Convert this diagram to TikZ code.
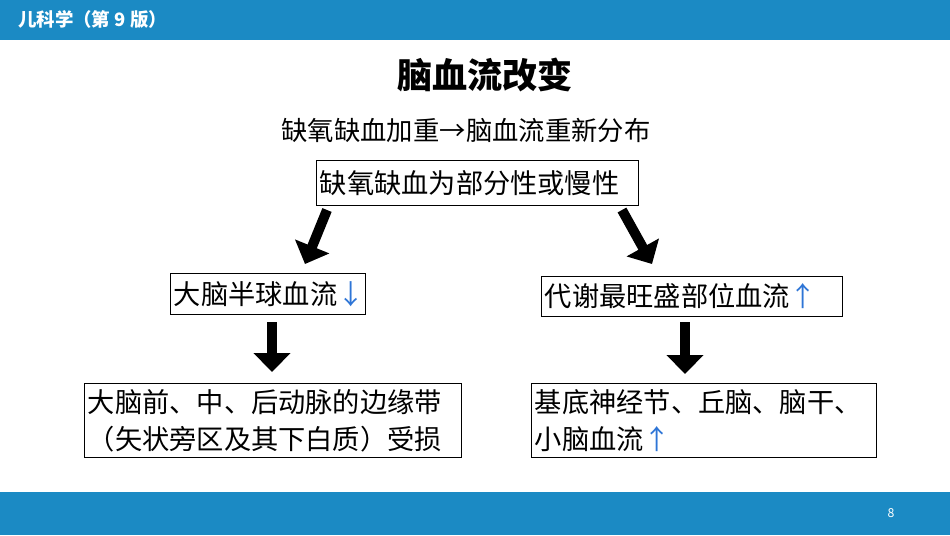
\documentclass[tikz,border=0pt]{standalone}
\usepackage{fontspec}
\setmainfont{Noto Sans CJK SC}
\usetikzlibrary{arrows.meta}
\definecolor{barblue}{HTML}{1B8AC4}
\definecolor{upblue}{HTML}{2E75D6}
\begin{document}
\begin{tikzpicture}[x=0.02cm,y=-0.02cm,
    box/.style ={draw, thin, inner xsep=2pt, inner ysep=1pt, font=\fontsize{15.5}{21}\selectfont, anchor=north west, align=left},
    bigarrow/.style ={line width=0.2cm, -{Triangle[length=0.38cm,width=0.72cm]}}]
   \useasboundingbox (0,0) rectangle (950,535);
   \fill[barblue] (0,0) rectangle (950,40);
   \fill[barblue] (0,492) rectangle (950,535);
   \node[anchor=west, text=white, font=\fontsize{10.5}{12}\selectfont\bfseries] (book) at (12,20) {儿科学（第 9 版）};
   \node[text=white, font=\fontsize{7}{8}\selectfont] (page) at (891,513) {8};

   \node[font=\fontsize{20}{22}\selectfont\bfseries] (title) at (485,75) {脑血流改变};
   \node[font=\fontsize{15}{17}\selectfont] (sub) at (466,130) {缺氧缺血加重→脑血流重新分布};

   \node[box, text width=6.3cm, minimum height=0.9cm] (A) at (316,160) {缺氧缺血为部分性或慢性};
   \node[box, text width=3.76cm, minimum height=0.82cm] (B) at (170,273) {大脑半球血流\textcolor{upblue}{↓}};
   \node[box, text width=5.88cm, minimum height=0.8cm] (C) at (541,276) {代谢最旺盛部位血流\textcolor{upblue}{↑}};
   \node[box, text width=7.4cm, minimum height=1.48cm] (D) at (84,383) {大脑前、中、后动脉的边缘带\\（矢状旁区及其下白质）受损};
   \node[box, text width=6.76cm, minimum height=1.48cm] (E) at (531,383) {基底神经节、丘脑、脑干、\\小脑血流\textcolor{upblue}{↑}};

   \coordinate (a1) at (327,210);
   \coordinate (a2) at (305,264);
   \coordinate (b1) at (622,210);
   \coordinate (b2) at (652,264);
   \coordinate (c1) at (272,322);
   \coordinate (c2) at (272,372);
   \coordinate (d1) at (685,322);
   \coordinate (d2) at (685,374);

   \draw[bigarrow] (a1) to (a2);
   \draw[bigarrow] (b1) to (b2);
   \draw[bigarrow] (c1) to (c2);
   \draw[bigarrow] (d1) to (d2);
\end{tikzpicture}
\end{document}
